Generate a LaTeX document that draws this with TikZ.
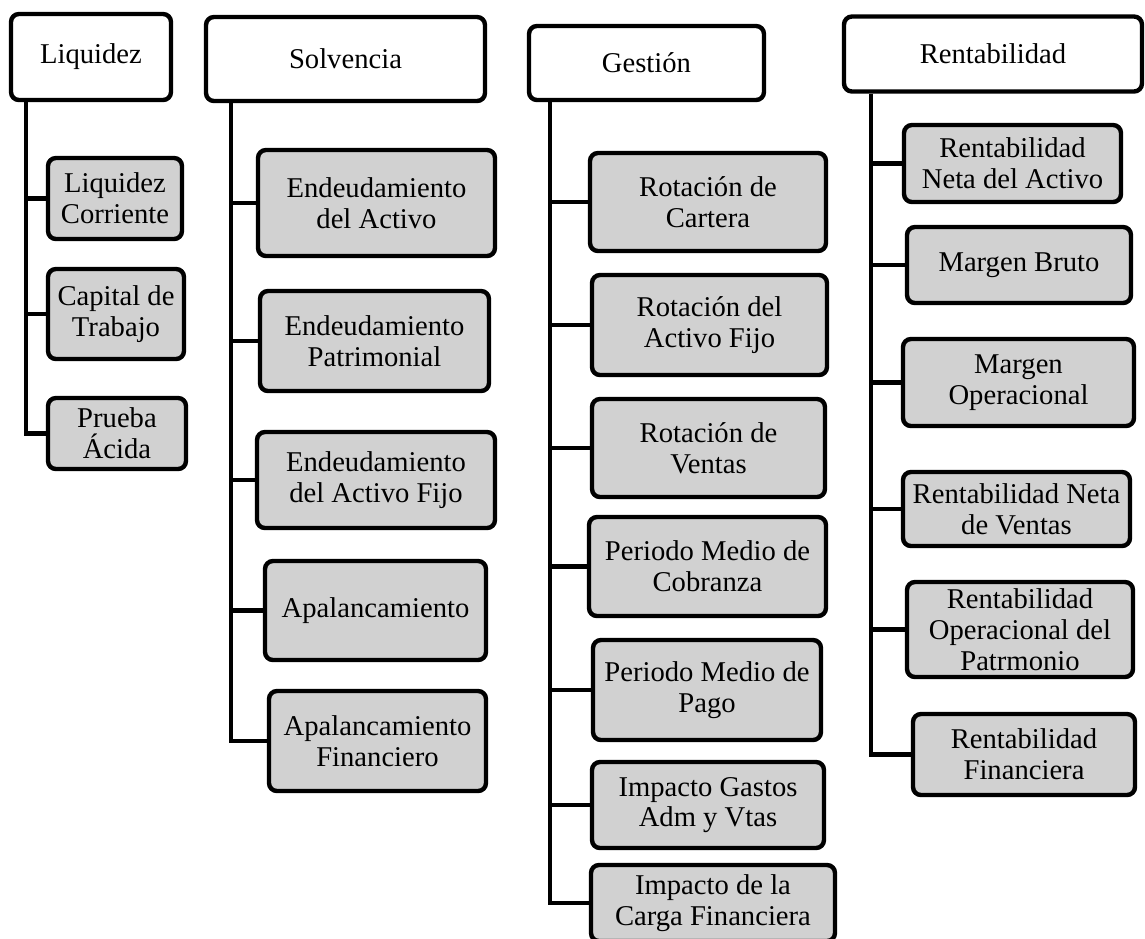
\documentclass[tikz,border=0pt]{standalone}
\usepackage{fontspec}
\setmainfont{Liberation Serif}
\usepackage{tikz}
\usepackage{xcolor}
\definecolor{grisclaro}{RGB}{209,209,209}
\tikzset{
  titulo/.style={draw,line width=2.5pt,rounded corners=4.5pt,fill=white,align=center,inner sep=0pt,font=\fontsize{16.3}{17.5}\selectfont},
  indicador/.style={titulo,fill=grisclaro},
  rama/.style={line width=2.5pt}
}

\begin{document}
\begin{tikzpicture}[x=0.02cm,y=-0.02cm]
    \useasboundingbox (0,0) rectangle (1145,938);
    \node[titulo,minimum width=3.2cm,minimum height=1.72cm] (liq) at (91,57) {Liquidez};
    \node[titulo,minimum width=5.58cm,minimum height=1.68cm] (sol) at (345.5,59) {Solvencia};
    \node[titulo,minimum width=4.7cm,minimum height=1.48cm] (ges) at (646.5,63) {Gestión};
    \node[titulo,minimum width=5.96cm,minimum height=1.5cm] (ren) at (993,54) {Rentabilidad};

    \node[indicador,minimum width=2.68cm,minimum height=1.62cm] (lc) at (115,198.5) {Liquidez\\Corriente};
    \node[indicador,minimum width=2.72cm,minimum height=1.8cm] (ct) at (116,314) {Capital de\\Trabajo};
    \node[indicador,minimum width=2.76cm,minimum height=1.42cm] (pa) at (117,433.5) {Prueba\\Ácida};

    \node[indicador,minimum width=4.74cm,minimum height=2.12cm] (ea) at (376.5,203) {Endeudamiento\\del Activo};
    \node[indicador,minimum width=4.58cm,minimum height=2.0cm] (ep) at (374.5,341) {Endeudamiento\\Patrimonial};
    \node[indicador,minimum width=4.76cm,minimum height=1.92cm] (eaf) at (376,480) {Endeudamiento\\del Activo Fijo};
    \node[indicador,minimum width=4.42cm,minimum height=1.98cm] (ap) at (375.5,610.5) {Apalancamiento};
    \node[indicador,minimum width=4.34cm,minimum height=2.0cm] (af) at (377.5,741) {Apalancamiento\\Financiero};

    \node[indicador,minimum width=4.72cm,minimum height=1.96cm] (rc) at (708,202) {Rotación de\\Cartera};
    \node[indicador,minimum width=4.7cm,minimum height=2.0cm] (raf) at (709.5,325) {Rotación del\\Activo Fijo};
    \node[indicador,minimum width=4.66cm,minimum height=1.96cm] (rv) at (708.5,448) {Rotación de\\Ventas};
    \node[indicador,minimum width=4.74cm,minimum height=1.98cm] (pmc) at (707.5,566.5) {Periodo Medio de\\Cobranza};
    \node[indicador,minimum width=4.56cm,minimum height=2.0cm] (pmp) at (707,690) {Periodo Medio de\\Pago};
    \node[indicador,minimum width=4.64cm,minimum height=1.72cm] (iga) at (708,805) {Impacto Gastos\\Adm y Vtas};
    \node[indicador,minimum width=4.88cm,minimum height=1.52cm] (icf) at (713,903) {Impacto de la\\Carga Financiera};

    \node[indicador,minimum width=4.34cm,minimum height=1.54cm] (rna) at (1012.5,163.5) {Rentabilidad\\Neta del Activo};
    \node[indicador,minimum width=4.48cm,minimum height=1.52cm] (mb) at (1019,265) {Margen Bruto};
    \node[indicador,minimum width=4.62cm,minimum height=1.74cm] (mo) at (1018.5,382.5) {Margen\\Operacional};
    \node[indicador,minimum width=4.54cm,minimum height=1.48cm] (rnv) at (1016.5,509) {Rentabilidad Neta\\de Ventas};
    \node[indicador,minimum width=4.52cm,minimum height=1.9cm] (rop) at (1020,629.5) {Rentabilidad\\Operacional del\\Patrmonio};
    \node[indicador,minimum width=4.44cm,minimum height=1.62cm] (rf) at (1024,754.5) {Rentabilidad\\Financiera};

    \draw[rama] ([xshift=0.34cm]liq.south west) |- (lc.west) ([xshift=0.34cm]liq.south west) |- (ct.west) ([xshift=0.34cm]liq.south west) |- (pa.west);
    \draw[rama] ([xshift=0.54cm]sol.south west) |- (ea.west) ([xshift=0.54cm]sol.south west) |- (ep.west) ([xshift=0.54cm]sol.south west) |- (eaf.west) ([xshift=0.54cm]sol.south west) |- (ap.west) ([xshift=0.54cm]sol.south west) |- (af.west);
    \draw[rama] ([xshift=0.46cm]ges.south west) |- (rc.west) ([xshift=0.46cm]ges.south west) |- (raf.west) ([xshift=0.46cm]ges.south west) |- (rv.west) ([xshift=0.46cm]ges.south west) |- (pmc.west) ([xshift=0.46cm]ges.south west) |- (pmp.west) ([xshift=0.46cm]ges.south west) |- (iga.west) ([xshift=0.46cm]ges.south west) |- (icf.west);
    \draw[rama] ([xshift=0.58cm]ren.south west) |- (rna.west) ([xshift=0.58cm]ren.south west) |- (mb.west) ([xshift=0.58cm]ren.south west) |- (mo.west) ([xshift=0.58cm]ren.south west) |- (rnv.west) ([xshift=0.58cm]ren.south west) |- (rop.west) ([xshift=0.58cm]ren.south west) |- (rf.west);
\end{tikzpicture}
\end{document}
